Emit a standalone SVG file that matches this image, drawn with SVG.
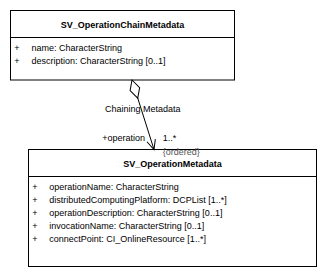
<svg xmlns="http://www.w3.org/2000/svg" width="327" height="278" viewBox="0 0 327 278">
  <style>
    .box { fill: #ffffff; stroke: #000000; stroke-width: 1; }
    .sep { stroke: #000000; stroke-width: 1; }
    text { font-family: "Liberation Sans", Arial, sans-serif; font-size: 9px; fill: #000000; }
    .title { font-weight: bold; text-anchor: middle; }
    .vis { text-anchor: middle; }
    .note { fill: #555555; }
    .assoc { fill: none; stroke: #000000; stroke-width: 1; }
  </style>
  <defs>
    <marker id="aggregation" markerUnits="userSpaceOnUse" orient="auto" refX="0" refY="0" markerWidth="22" markerHeight="12" viewBox="-1 -6 22 12" overflow="visible">
      <path d="M0,0 L9.5,-5 L19,0 L9.5,5 Z" fill="#ffffff" stroke="#000000" stroke-width="1"/>
    </marker>
    <marker id="openArrow" markerUnits="userSpaceOnUse" orient="auto" refX="0" refY="0" markerWidth="12" markerHeight="12" viewBox="-11 -6 12 12" overflow="visible">
      <path d="M-9.5,-4.4 L0,0 L-9.5,4.4" fill="none" stroke="#000000" stroke-width="1"/>
    </marker>
  </defs>

  <g id="SV_OperationChainMetadata">
    <rect class="box" x="10.5" y="10.5" width="224" height="69.5"/>
    <line class="sep" x1="10.5" y1="37.5" x2="234.5" y2="37.5"/>
    <text class="title" x="122.5" y="27.5">SV_OperationChainMetadata</text>
    <text class="vis" x="17" y="51">+</text>
    <text x="31.5" y="51">name: CharacterString</text>
    <text class="vis" x="17" y="63.8">+</text>
    <text x="31.5" y="63.8">description: CharacterString [0..1]</text>
  </g>

  <g id="SV_OperationMetadata">
    <rect class="box" x="28.5" y="149.5" width="288" height="117"/>
    <line class="sep" x1="28.5" y1="176.5" x2="316.5" y2="176.5"/>
    <text class="title" x="172.5" y="166.5">SV_OperationMetadata</text>
    <text class="vis" x="35" y="190.2">+</text>
    <text x="49.3" y="190.2">operationName: CharacterString</text>
    <text class="vis" x="35" y="203.1">+</text>
    <text x="49.3" y="203.1">distributedComputingPlatform: DCPList [1..*]</text>
    <text class="vis" x="35" y="216">+</text>
    <text x="49.3" y="216">operationDescription: CharacterString [0..1]</text>
    <text class="vis" x="35" y="228.9">+</text>
    <text x="49.3" y="228.9">invocationName: CharacterString [0..1]</text>
    <text class="vis" x="35" y="241.8">+</text>
    <text x="49.3" y="241.8">connectPoint: CI_OnlineResource [1..*]</text>
  </g>

  <g id="connectors">
    <path class="assoc" d="M132,80 L154,149.5" marker-start="url(#aggregation)" marker-end="url(#openArrow)"/>
    <text x="105" y="111.5">Chaining Metadata</text>
    <text x="102.3" y="140.7">+operation</text>
    <text x="162.7" y="140.7">1..*</text>
    <text class="note" x="162.7" y="155">{ordered}</text>
  </g>
</svg>
